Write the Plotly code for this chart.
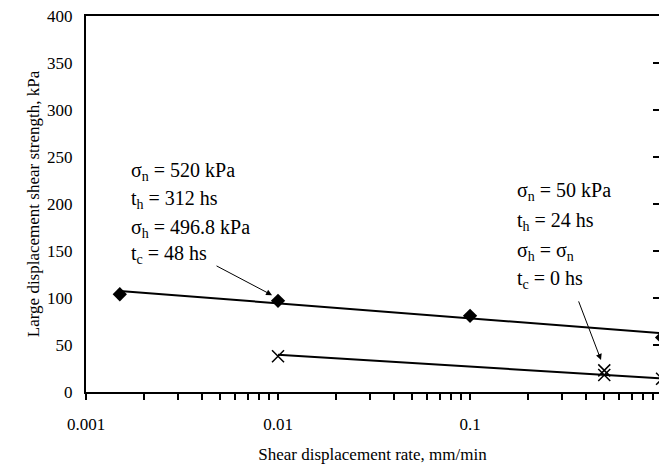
import numpy as np
import plotly.graph_objects as go

# ---- data ----
upper_x = [0.0015, 0.01, 0.1, 1.0]
upper_y = [104, 97, 81, 58]
lower_x = [0.01, 0.5, 0.5, 1.0]
lower_y = [38, 23, 18, 14]
upper_trend_x = [0.0015, 1.0]
upper_trend_y = [107.5, 62.5]
lower_trend_x = [0.01, 1.0]
lower_trend_y = [39.5, 14.5]
y_ticks = [0, 50, 100, 150, 200, 250, 300, 350, 400]
x_major = [0.001, 0.01, 0.1, 1]
x_major_labels = ["0.001", "0.01", "0.1", "1"]

left_lines = ["σ<sub>n</sub> = 520 kPa", "t<sub>h</sub> = 312 hs",
              "σ<sub>h</sub> = 496.8 kPa", "t<sub>c</sub> = 48 hs"]
right_lines = ["σ<sub>n</sub> = 50 kPa", "t<sub>h</sub> = 24 hs",
               "σ<sub>h</sub> = σ<sub>n</sub>", "t<sub>c</sub> = 0 hs"]

FONT = "Liberation Serif"

# log-axis ticks: majors labelled, minors unlabelled
tickvals, ticktext = [], []
for d, lab in zip(x_major, x_major_labels):
    for m in range(1, 10):
        v = d * m
        if v > 1.0001:
            break
        tickvals.append(v)
        ticktext.append(lab if m == 1 else "")

fig = go.Figure()
fig.add_trace(go.Scatter(x=upper_trend_x, y=upper_trend_y, mode="lines",
                         line=dict(color="black", width=2), showlegend=False))
fig.add_trace(go.Scatter(x=lower_trend_x, y=lower_trend_y, mode="lines",
                         line=dict(color="black", width=2), showlegend=False))
fig.add_trace(go.Scatter(x=upper_x, y=upper_y, mode="markers",
                         marker=dict(symbol="diamond", size=11, color="black"),
                         showlegend=False))
fig.add_trace(go.Scatter(x=lower_x, y=lower_y, mode="markers",
                         marker=dict(symbol="x-thin-open", size=12, color="black",
                                     line=dict(color="black", width=1.5)),
                         showlegend=False))
# invisible trace for right-side tick dashes
fig.add_trace(go.Scatter(x=[0.5], y=[200], yaxis="y2", mode="markers",
                         marker=dict(opacity=0), showlegend=False, hoverinfo="skip"))

annotations = []
left_y = [235, 205, 174, 146]
right_y = [213, 181, 149, 120]
for txt, yy in zip(left_lines, left_y):
    annotations.append(dict(x=-2.774, y=yy, xref="x", yref="y", text=txt,
                            showarrow=False, xanchor="left", yanchor="middle",
                            font=dict(family=FONT, size=20, color="black")))
for txt, yy in zip(right_lines, right_y):
    annotations.append(dict(x=-0.765, y=yy, xref="x", yref="y", text=txt,
                            showarrow=False, xanchor="left", yanchor="middle",
                            font=dict(family=FONT, size=20, color="black")))
annotations.append(dict(x=-2.031, y=103, xref="x", yref="y",
                        ax=-2.328, ay=135, axref="x", ayref="y", text="",
                        showarrow=True, arrowhead=2, arrowsize=1.2, arrowwidth=1,
                        arrowcolor="black"))
annotations.append(dict(x=-0.318, y=34, xref="x", yref="y",
                        ax=-0.4375, ay=98, axref="x", ayref="y", text="",
                        showarrow=True, arrowhead=2, arrowsize=1.2, arrowwidth=1,
                        arrowcolor="black"))

fig.update_layout(
    width=659, height=464,
    margin=dict(l=86, r=0, t=16, b=72),
    paper_bgcolor="white", plot_bgcolor="white",
    font=dict(family=FONT, size=17, color="black"),
    xaxis=dict(type="log", range=[-3, -0.016], tickvals=tickvals, ticktext=ticktext,
               ticks="outside", ticklen=6, tickwidth=1.5, tickcolor="black",
               showline=True, linecolor="black", linewidth=2, mirror=True,
               showgrid=False, zeroline=False, automargin=False,
               ticklabelstandoff=10, ticklabeloverflow="allow",
               title=dict(text="Shear displacement rate, mm/min", standoff=15,
                          font=dict(family=FONT, size=17)),
               tickfont=dict(family=FONT, size=17)),
    yaxis=dict(range=[0, 400], tickvals=y_ticks, ticks="", showline=True,
               linecolor="black", linewidth=2, showgrid=False, zeroline=False,
               automargin=False, ticklabelstandoff=8, ticklabeloverflow="allow",
               title=dict(text="Large displacement shear strength, kPa", standoff=3,
                          font=dict(family=FONT, size=17)),
               tickfont=dict(family=FONT, size=17)),
    yaxis2=dict(range=[0, 400], overlaying="y", side="right", anchor="x",
                tickvals=[50, 100, 150, 200, 250, 300, 350],
                ticks="inside", ticklen=6, tickwidth=2, tickcolor="black",
                showticklabels=False, showline=False, showgrid=False, zeroline=False,
                automargin=False),
    annotations=annotations,
)

fig.write_html(
    "out.html",
    config={"displayModeBar": False},
    post_script="document.body.style.margin='0';"
                "document.documentElement.style.overflow='hidden';"
                "document.body.style.overflow='hidden';",
)
